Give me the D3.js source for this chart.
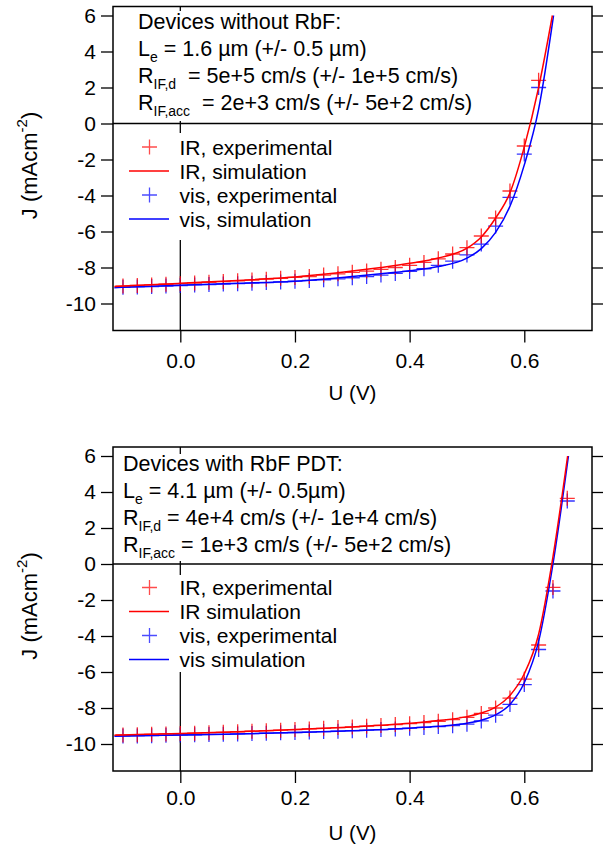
<!DOCTYPE html>
<html><head><meta charset="utf-8">
<script src="https://cdn.jsdelivr.net/npm/d3@7"></script>
<style>
body{margin:0;background:#fff}
svg{display:block}
text{font-family:"Liberation Sans",Arial,sans-serif;fill:#000;white-space:pre}
</style>
</head><body>
<svg id="c" width="603" height="845"></svg>
<script>
// ---------- axis settings ----------
const xTicks = [0.0, 0.2, 0.4, 0.6];
const yTicks = [6, 4, 2, 0, -2, -4, -6, -8, -10];
const xDomain = [-0.1174, 0.7181];
const yDomain = [-11.5, 6.5];
const xLabel = "U (V)";

// ---------- top panel: devices without RbF ----------
const topExpV = [-0.1,-0.075,-0.05,-0.025,0,0.025,0.05,0.075,0.1,0.125,0.15,0.175,0.2,0.225,0.25,0.275,0.3,0.325,0.35,0.375,0.4,0.425,0.45,0.475,0.5,0.525,0.55,0.575,0.6,0.625];
const topIRExp = [-9.03,-9.0,-8.97,-8.93,-8.9,-8.86,-8.82,-8.78,-8.74,-8.7,-8.65,-8.6,-8.55,-8.5,-8.42,-8.35,-8.27,-8.2,-8.1,-8.0,-7.88,-7.72,-7.52,-7.25,-6.9,-6.25,-5.25,-3.75,-1.25,2.4];
const topVisExp = [-9.1,-9.08,-9.06,-9.03,-9.0,-8.97,-8.95,-8.92,-8.9,-8.87,-8.84,-8.8,-8.76,-8.72,-8.68,-8.63,-8.57,-8.5,-8.42,-8.33,-8.22,-8.07,-7.88,-7.65,-7.3,-6.7,-5.7,-4.1,-1.7,2.0];
const topIRSimV = [-0.115,-0.1,0,0.1,0.2,0.3,0.35,0.4,0.45,0.5,0.525,0.55,0.575,0.6,0.625,0.649];
const topIRSim = [-9.05,-9.03,-8.88,-8.72,-8.53,-8.2,-8.0,-7.77,-7.47,-6.93,-6.3,-5.25,-3.85,-1.3,2.0,6.0];
const topVisSimV = [-0.115,-0.1,0,0.1,0.2,0.3,0.35,0.4,0.45,0.5,0.525,0.55,0.575,0.6,0.625,0.651];
const topVisSim = [-9.12,-9.1,-8.98,-8.88,-8.76,-8.5,-8.35,-8.18,-7.95,-7.48,-6.95,-6.05,-4.6,-2.3,0.8,6.0];
const topNote = [
  [["Devices without RbF:"]],
  [["L"],["e","sub"],[" = 1.6 µm (+/- 0.5 µm)"]],
  [["R"],["IF,d","sub"],["  = 5e+5 cm/s (+/- 1e+5 cm/s)"]],
  [["R"],["IF,acc","sub"],["  = 2e+3 cm/s (+/- 5e+2 cm/s)"]]
];
const topLegend = ["IR, experimental", "IR, simulation", "vis, experimental", "vis, simulation"];

// ---------- bottom panel: devices with RbF PDT ----------
const botExpV = [-0.1,-0.075,-0.05,-0.025,0,0.025,0.05,0.075,0.1,0.125,0.15,0.175,0.2,0.225,0.25,0.275,0.3,0.325,0.35,0.375,0.4,0.425,0.45,0.475,0.5,0.525,0.55,0.575,0.6,0.625,0.65,0.675];
const botIRExp = [-9.5,-9.48,-9.46,-9.44,-9.42,-9.4,-9.37,-9.35,-9.32,-9.29,-9.26,-9.23,-9.2,-9.16,-9.13,-9.09,-9.05,-9.01,-8.97,-8.92,-8.87,-8.81,-8.74,-8.65,-8.52,-8.3,-8.0,-7.45,-6.4,-4.5,-1.3,3.65];
const botVisExp = [-9.56,-9.55,-9.54,-9.52,-9.5,-9.49,-9.47,-9.46,-9.44,-9.42,-9.4,-9.38,-9.36,-9.34,-9.31,-9.29,-9.26,-9.23,-9.2,-9.16,-9.12,-9.08,-9.03,-8.98,-8.9,-8.72,-8.4,-7.8,-6.7,-4.75,-1.5,3.5];
const botIRSimV = [-0.115,-0.1,0,0.1,0.2,0.3,0.4,0.45,0.5,0.525,0.55,0.575,0.6,0.625,0.65,0.6756];
const botIRSim = [-9.52,-9.5,-9.42,-9.32,-9.2,-9.05,-8.85,-8.7,-8.48,-8.28,-7.95,-7.3,-6.1,-3.9,0.4,6.0];
const botVisSimV = [-0.115,-0.1,0,0.1,0.2,0.3,0.4,0.45,0.5,0.525,0.55,0.575,0.6,0.625,0.65,0.677];
const botVisSim = [-9.57,-9.56,-9.5,-9.44,-9.36,-9.26,-9.12,-9.02,-8.85,-8.68,-8.38,-7.8,-6.6,-4.3,0.0,6.0];
const botNote = [
  [["Devices with RbF PDT:"]],
  [["L"],["e","sub"],[" = 4.1 µm (+/- 0.5µm)"]],
  [["R"],["IF,d","sub"],[" = 4e+4 cm/s (+/- 1e+4 cm/s)"]],
  [["R"],["IF,acc","sub"],[" = 1e+3 cm/s (+/- 5e+2 cm/s)"]]
];
const botLegend = ["IR, experimental", "IR simulation", "vis, experimental", "vis simulation"];

const IRColor = "#ff0000", visColor = "#0000ff";

// ---------- layout ----------
const plotL = 113, plotR = 592, plotH = 324;
const panels = [
  {top: 6.5, expV: topExpV, irExp: topIRExp, visExp: topVisExp,
   irSimV: topIRSimV, irSim: topIRSim, visSimV: topVisSimV, visSim: topVisSim,
   note: topNote, legend: topLegend, noteX: 138, noteY0: 22.5, noteBox:[4.5,114.5,485], legBox:[126.5,233.5], tickY: 22},
  {top: 447, expV: botExpV, irExp: botIRExp, visExp: botVisExp,
   irSimV: botIRSimV, irSim: botIRSim, visSimV: botVisSimV, visSim: botVisSim,
   note: botNote, legend: botLegend, noteX: 123, noteY0: 24, noteBox:[7,114,485], legBox:[128,225], tickY: 19}
];

const svg = d3.select("#c");
const x = d3.scaleLinear().domain(xDomain).range([plotL, plotR]);

panels.forEach(p => {
  const y = d3.scaleLinear().domain(yDomain).range([p.top + plotH, p.top]);
  const g = svg.append("g");

  // zero lines
  g.append("line").attr("x1", plotL).attr("x2", plotR).attr("y1", y(0)).attr("y2", y(0))
    .attr("stroke", "#000").attr("stroke-width", 1.3);
  g.append("line").attr("x1", x(0)).attr("x2", x(0)).attr("y1", p.top).attr("y2", p.top + plotH)
    .attr("stroke", "#000").attr("stroke-width", 1.3);

  // white annotation boxes
  g.append("rect").attr("x", plotL + 1).attr("y", p.top + p.noteBox[0])
    .attr("width", p.noteBox[2] - plotL).attr("height", p.noteBox[1] - p.noteBox[0]).attr("fill", "#fff");
  g.append("rect").attr("x", plotL + 1).attr("y", p.top + p.legBox[0])
    .attr("width", 230).attr("height", p.legBox[1] - p.legBox[0]).attr("fill", "#fff");

  // experimental crosses
  const cross = (sel, vals, color) => {
    const s = 7.5;
    const pts = p.expV.map((v, i) => [x(v), y(vals[i])]);
    sel.append("path")
      .attr("d", pts.map(([a, b]) => `M${a - s},${b}H${a + s}M${a},${b - s}V${b + s}`).join(""))
      .attr("stroke", color).attr("stroke-width", 1.3).attr("fill", "none").attr("stroke-opacity", 0.8);
  };
  cross(g, p.visExp, visColor);
  cross(g, p.irExp, IRColor);

  // simulation lines
  const line = d3.line().x(d => x(d[0])).y(d => y(d[1])).curve(d3.curveMonotoneX);
  g.append("path").attr("d", line(p.visSimV.map((v, i) => [v, p.visSim[i]])))
    .attr("fill", "none").attr("stroke", visColor).attr("stroke-width", 1.5);
  g.append("path").attr("d", line(p.irSimV.map((v, i) => [v, p.irSim[i]])))
    .attr("fill", "none").attr("stroke", IRColor).attr("stroke-width", 1.5);

  // axes
  const ax = d3.axisBottom(x).tickValues(xTicks).tickFormat(d3.format(".1f")).tickSizeOuter(0).tickSize(12);
  const ga = g.append("g").attr("transform", `translate(0,${p.top + plotH})`).call(ax);
  const ayL = d3.axisLeft(y).tickValues(yTicks).tickFormat(d => String(d)).tickSizeOuter(0).tickSize(12).tickPadding(5);
  const gl = g.append("g").attr("transform", `translate(${plotL},0)`).call(ayL);
  const ayR = d3.axisRight(y).tickValues(yTicks).tickFormat("").tickSizeOuter(0).tickSize(12);
  const gr = g.append("g").attr("transform", `translate(${plotR},0)`).call(ayR);
  [ga, gl, gr].forEach(a => {
    a.select(".domain").remove();
    a.selectAll("line").attr("stroke", "#000").attr("stroke-width", 1.3);
    a.selectAll("text").attr("font-size", 21).attr("font-family", "Liberation Sans, Arial, sans-serif").attr("fill", "#000");
  });
  ga.selectAll("text").attr("dy", "0.72em").attr("y", p.tickY);

  // frame
  g.append("rect").attr("x", plotL).attr("y", p.top).attr("width", plotR - plotL).attr("height", plotH)
    .attr("fill", "none").attr("stroke", "#000").attr("stroke-width", 1.5);

  // annotation text
  p.note.forEach((segs, li) => {
    const t = g.append("text").attr("x", p.noteX).attr("y", p.top + p.noteY0 + li * 27).attr("font-size", 21.5);
    let shifted = false;
    segs.forEach(([s, kind]) => {
      if (kind === "sub") {
        t.append("tspan").attr("font-size", 14).attr("dy", 6).text(s);
        shifted = true;
      } else {
        const ts = t.append("tspan").text(s);
        if (shifted) { ts.attr("dy", -6); shifted = false; }
      }
    });
  });

  // legend
  p.legend.forEach((lab, i) => {
    const cy = p.top + 140.5 + i * 24;
    const col = i < 2 ? IRColor : visColor;
    if (i % 2 === 0) {
      g.append("path").attr("d", `M142,${cy}H157M149.5,${cy - 7.5}V${cy + 7.5}`)
        .attr("stroke", col).attr("stroke-width", 1.3).attr("stroke-opacity", 0.7);
    } else {
      g.append("line").attr("x1", 129).attr("x2", 169).attr("y1", cy).attr("y2", cy)
        .attr("stroke", col).attr("stroke-width", 1.5);
    }
    g.append("text").attr("x", 179.5).attr("y", cy + 7.5).attr("font-size", 21).text(lab);
  });

  // axis labels
  g.append("text").attr("x", (plotL + plotR) / 2).attr("y", p.top + plotH + 69)
    .attr("text-anchor", "middle").attr("font-size", 20.5).text(xLabel);
  const yl = g.append("text").attr("transform", `translate(37,${p.top + 159}) rotate(-90)`)
    .attr("text-anchor", "middle").attr("font-size", 22);
  yl.append("tspan").text("J (mAcm");
  yl.append("tspan").attr("font-size", 15).attr("dy", -10).text("-2");
  yl.append("tspan").attr("dy", 10).text(")");
});
</script>
</body></html>
